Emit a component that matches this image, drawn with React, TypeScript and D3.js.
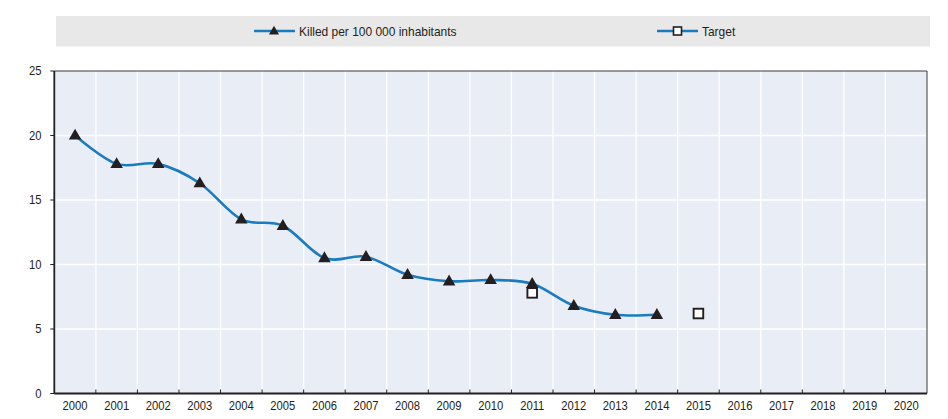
import * as d3 from 'd3';
import { useEffect, useRef } from "react";
import * as React from "react";

const years: string[] = d3.range(2000, 2021).map(String);
const killedYears: string[] = ["2000", "2001", "2002", "2003", "2004", "2005", "2006", "2007", "2008", "2009", "2010", "2011", "2012", "2013", "2014"];
const killedValues: number[] = [20.0, 17.8, 17.8, 16.3, 13.5, 13.0, 10.5, 10.6, 9.2, 8.7, 8.8, 8.5, 6.8, 6.1, 6.1];
const targetYears: string[] = ["2011", "2015"];
const targetValues: number[] = [7.8, 6.2];
const yTicks: number[] = [0, 5, 10, 15, 20, 25];
const legendLabels: string[] = ["Killed per 100 000 inhabitants", "Target"];

const FONT = "'Liberation Sans', Arial, sans-serif";
const BLUE = "#1a7bbf";
const DARK = "#231f20";

const App: React.FC = () => {
    const svgRef = useRef<SVGSVGElement | null>(null);

    useEffect(() => {
        if (!svgRef.current) return;
        const width = 948;
        const height = 419;
        const margin = { top: 71, right: 21, bottom: 25.5, left: 54.3 };

        const svg = d3.select(svgRef.current)
            .attr("width", width)
            .attr("height", height);
        svg.selectAll("*").remove();

        const x = d3.scaleBand<string>()
            .domain(years)
            .range([margin.left, width - margin.right])
            .padding(0);

        const y = d3.scaleLinear()
            .domain([0, 25])
            .range([height - margin.bottom, margin.top]);

        const x0 = margin.left;
        const x1 = width - margin.right;
        const y0 = y(0);
        const y1 = y(25);
        const cx = (yr: string) => (x(yr) as number) + x.bandwidth() / 2;

        // plot background
        svg.append("rect")
            .attr("x", x0).attr("y", y1)
            .attr("width", x1 - x0).attr("height", y0 - y1)
            .attr("fill", "#e9edf6");

        // horizontal grid
        svg.append("g")
            .selectAll("line")
            .data(yTicks.filter(t => t > 0 && t < 25))
            .enter().append("line")
            .attr("x1", x0).attr("x2", x1)
            .attr("y1", d => y(d)).attr("y2", d => y(d))
            .attr("stroke", "#ffffff")
            .attr("stroke-width", 1.3);

        // vertical grid at band boundaries
        const bounds = years.slice(1).map(yr => x(yr) as number);
        svg.append("g")
            .selectAll("line")
            .data(bounds)
            .enter().append("line")
            .attr("x1", d => d).attr("x2", d => d)
            .attr("y1", y1).attr("y2", y0)
            .attr("stroke", "#ffffff")
            .attr("stroke-width", 1.3);

        // frame: top and right thin, left and bottom heavy
        svg.append("line")
            .attr("x1", x0).attr("x2", x1).attr("y1", y1).attr("y2", y1)
            .attr("stroke", "#3a3a3a").attr("stroke-width", 1);
        svg.append("line")
            .attr("x1", x1).attr("x2", x1).attr("y1", y1).attr("y2", y0)
            .attr("stroke", "#3a3a3a").attr("stroke-width", 1);

        // bottom ticks (inward)
        svg.append("g")
            .selectAll("line")
            .data(bounds)
            .enter().append("line")
            .attr("x1", d => d).attr("x2", d => d)
            .attr("y1", y0).attr("y2", y0 - 4)
            .attr("stroke", DARK)
            .attr("stroke-width", 1);

        svg.append("line")
            .attr("x1", x0).attr("x2", x1).attr("y1", y0).attr("y2", y0)
            .attr("stroke", DARK).attr("stroke-width", 1.8);
        svg.append("line")
            .attr("x1", x0).attr("x2", x0).attr("y1", y1).attr("y2", y0)
            .attr("stroke", DARK).attr("stroke-width", 1.8);

        // y ticks + labels (condensed look via scaleX)
        const yAxis = svg.append("g");
        yAxis.selectAll("line")
            .data(yTicks)
            .enter().append("line")
            .attr("x1", x0 - 4).attr("x2", x0)
            .attr("y1", d => y(d)).attr("y2", d => y(d))
            .attr("stroke", DARK).attr("stroke-width", 1);
        yAxis.selectAll("text")
            .data(yTicks)
            .enter().append("text")
            .attr("transform", d => `translate(41.5,${y(d)}) scale(0.9,1)`)
            .attr("dy", "0.35em")
            .attr("text-anchor", "end")
            .attr("font-family", FONT)
            .attr("font-size", 12.5)
            .attr("fill", DARK)
            .text(d => d);

        // x labels
        svg.append("g")
            .selectAll("text")
            .data(years)
            .enter().append("text")
            .attr("transform", d => `translate(${cx(d)},410) scale(0.865,1)`)
            .attr("text-anchor", "middle")
            .attr("font-family", FONT)
            .attr("font-size", 13)
            .attr("fill", DARK)
            .text(d => d);

        // line
        const killed = killedYears.map((yr, i) => ({ year: yr, value: killedValues[i] }));
        const line = d3.line<{ year: string; value: number }>()
            .x(d => cx(d.year))
            .y(d => y(d.value))
            .curve(d3.curveCatmullRom.alpha(0));

        svg.append("path")
            .datum(killed)
            .attr("fill", "none")
            .attr("stroke", BLUE)
            .attr("stroke-width", 2.6)
            .attr("d", line);

        const tri = d3.symbol().type(d3.symbolTriangle).size(68);
        svg.append("g")
            .selectAll("path")
            .data(killed)
            .enter().append("path")
            .attr("d", tri)
            .attr("transform", d => `translate(${cx(d.year)},${y(d.value) + 0.5})`)
            .attr("fill", DARK);

        // target squares
        const target = targetYears.map((yr, i) => ({ year: yr, value: targetValues[i] }));
        svg.append("g")
            .selectAll("rect")
            .data(target)
            .enter().append("rect")
            .attr("x", d => cx(d.year) - 4.8)
            .attr("y", d => y(d.value) - 4.8)
            .attr("width", 9.6).attr("height", 9.6)
            .attr("fill", "#ffffff")
            .attr("stroke", DARK)
            .attr("stroke-width", 1.9);

        // legend
        svg.append("rect")
            .attr("x", 56).attr("y", 16)
            .attr("width", 874).attr("height", 30.5)
            .attr("fill", "#e8e8e8");

        const legendX = [254, 657];
        const ly = 31;
        const lg = svg.append("g");
        legendLabels.forEach((label, i) => {
            const lx = legendX[i];
            lg.append("line")
                .attr("x1", lx).attr("x2", lx + 41)
                .attr("y1", ly).attr("y2", ly)
                .attr("stroke", BLUE).attr("stroke-width", 2.6);
            if (i === 0) {
                lg.append("path")
                    .attr("d", d3.symbol().type(d3.symbolTriangle).size(44)())
                    .attr("transform", `translate(${lx + 20},${ly + 0.5})`)
                    .attr("fill", DARK);
            } else {
                lg.append("rect")
                    .attr("x", lx + 16.5).attr("y", ly - 4)
                    .attr("width", 8).attr("height", 8)
                    .attr("fill", "#ffffff")
                    .attr("stroke", DARK).attr("stroke-width", 1.6);
            }
            lg.append("text")
                .attr("transform", `translate(${lx + 45},${ly}) scale(0.92,1)`)
                .attr("dy", "0.35em")
                .attr("font-family", FONT)
                .attr("font-size", 13)
                .attr("fill", DARK)
                .text(label);
        });
    }, []);

    return (
        <div style={{ position: "absolute", left: 0, top: 0, width: 948, height: 419, background: "#ffffff" }}>
            <svg ref={svgRef} style={{ display: "block" }}></svg>
        </div>
    );
};

export default App;
